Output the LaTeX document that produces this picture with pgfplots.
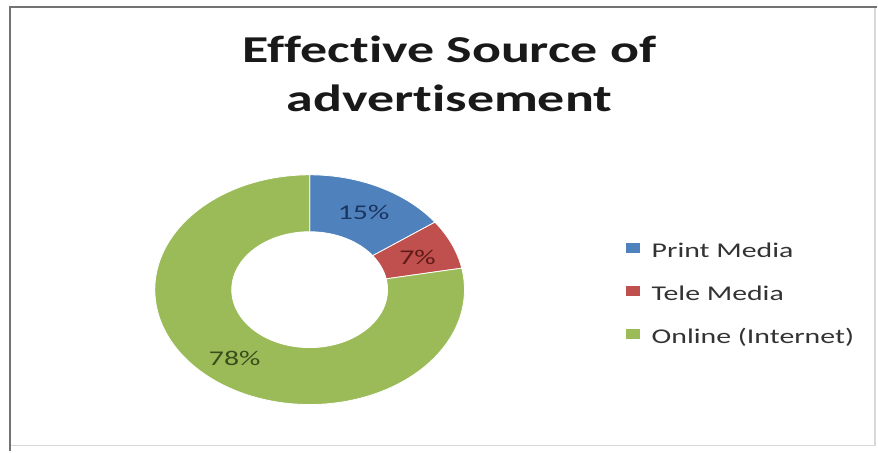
\documentclass[border=0pt]{standalone}
\usepackage{pgfplots}
\pgfplotsset{compat=1.18}
\usepackage{graphicx}
\usepackage{fontspec}
\setmainfont[Ligatures=NoCommon]{Carlito}
\definecolor{cPrint}{HTML}{4F81BD}
\definecolor{cTele}{HTML}{C0504D}
\definecolor{cOnline}{HTML}{9BBB59}
\definecolor{lPrint}{HTML}{1B3560}
\definecolor{lTele}{HTML}{5E1A18}
\definecolor{lOnline}{HTML}{3B4D1C}
% shares (per cent)
\def\vPrint{15}
\def\vTele{7}
\def\vOnline{78}
\pgfmathsetmacro{\aZero}{90}
\pgfmathsetmacro{\aOne}{\aZero-3.6*\vPrint}
\pgfmathsetmacro{\aTwo}{\aOne-3.6*\vTele}
\pgfmathsetmacro{\aThree}{\aTwo-3.6*\vOnline}
\begin{document}
\begin{tikzpicture}
\begin{axis}[
  scale only axis, width=658.5pt, height=339pt,
  xmin=0, xmax=878, ymin=0, ymax=452, y dir=reverse,
  hide axis, clip=false,
  legend style={at={(axis cs:626,242)}, anchor=north west, draw=none, fill=none,
    inner sep=0pt, outer sep=0pt, row sep=18pt,
    font=\fontsize{15.75}{18}\selectfont, text=black!80,
    nodes={inner sep=0pt, text height=11pt, text depth=3pt}},
  legend cell align=left,
  /tikz/every odd column/.append style={column sep=8pt},
  legend image code/.code={\fill[#1] (0pt,-1pt) rectangle (11.25pt,7.25pt);},
]
\path (axis cs:0,0) rectangle (axis cs:878,452);
% frame
\draw[black!15, line width=1pt] (axis cs:10,446) -- (axis cs:876,446) -- (axis cs:876,7);
\draw[black!55, line width=1.5pt] (axis cs:10,452) -- (axis cs:10,7) -- (axis cs:878,7);
% slices
\addplot[fill=cPrint, draw=white, line width=0.6pt, domain=\aOne:\aZero, samples=60, variable=\t]
  ({310+155*cos(\t)},{290-115*sin(\t)}) -- (axis cs:310,290) -- cycle;
\addlegendentry{\scalebox{1.42}[1]{Print Media}}
\addplot[fill=cTele, draw=white, line width=0.6pt, domain=\aTwo:\aOne, samples=30, variable=\t]
  ({310+155*cos(\t)},{290-115*sin(\t)}) -- (axis cs:310,290) -- cycle;
\addlegendentry{\scalebox{1.42}[1]{Tele Media}}
\addplot[fill=cOnline, draw=white, line width=0.6pt, domain=\aThree:\aTwo, samples=180, variable=\t]
  ({310+155*cos(\t)},{290-115*sin(\t)}) -- (axis cs:310,290) -- cycle;
\addlegendentry{\scalebox{1.42}[1]{Online (Internet)}}
% hole
\addplot[fill=white, draw=white, line width=0.6pt, domain=0:360, samples=120, variable=\t, forget plot]
  ({310+78*cos(\t)},{290-58*sin(\t)}) -- cycle;
% labels
\node[xscale=1.42, font=\fontsize{15.75}{18}\selectfont, text=lPrint] at (axis cs:364,213) {15\%};
\node[xscale=1.42, font=\fontsize{15.75}{18}\selectfont, text=lTele] at (axis cs:418,258) {7\%};
\node[xscale=1.42, font=\fontsize{15.75}{18}\selectfont, text=lOnline] at (axis cs:235,359) {78\%};
% title
\node[anchor=base, xscale=1.42, font=\bfseries\fontsize{28.5}{34}\selectfont, text=black!90] at (axis cs:450,63) {Effective Source of};
\node[anchor=base, xscale=1.42, font=\bfseries\fontsize{28.5}{34}\selectfont, text=black!90] at (axis cs:450,112) {advertisement};
\end{axis}
\end{tikzpicture}
\end{document}
